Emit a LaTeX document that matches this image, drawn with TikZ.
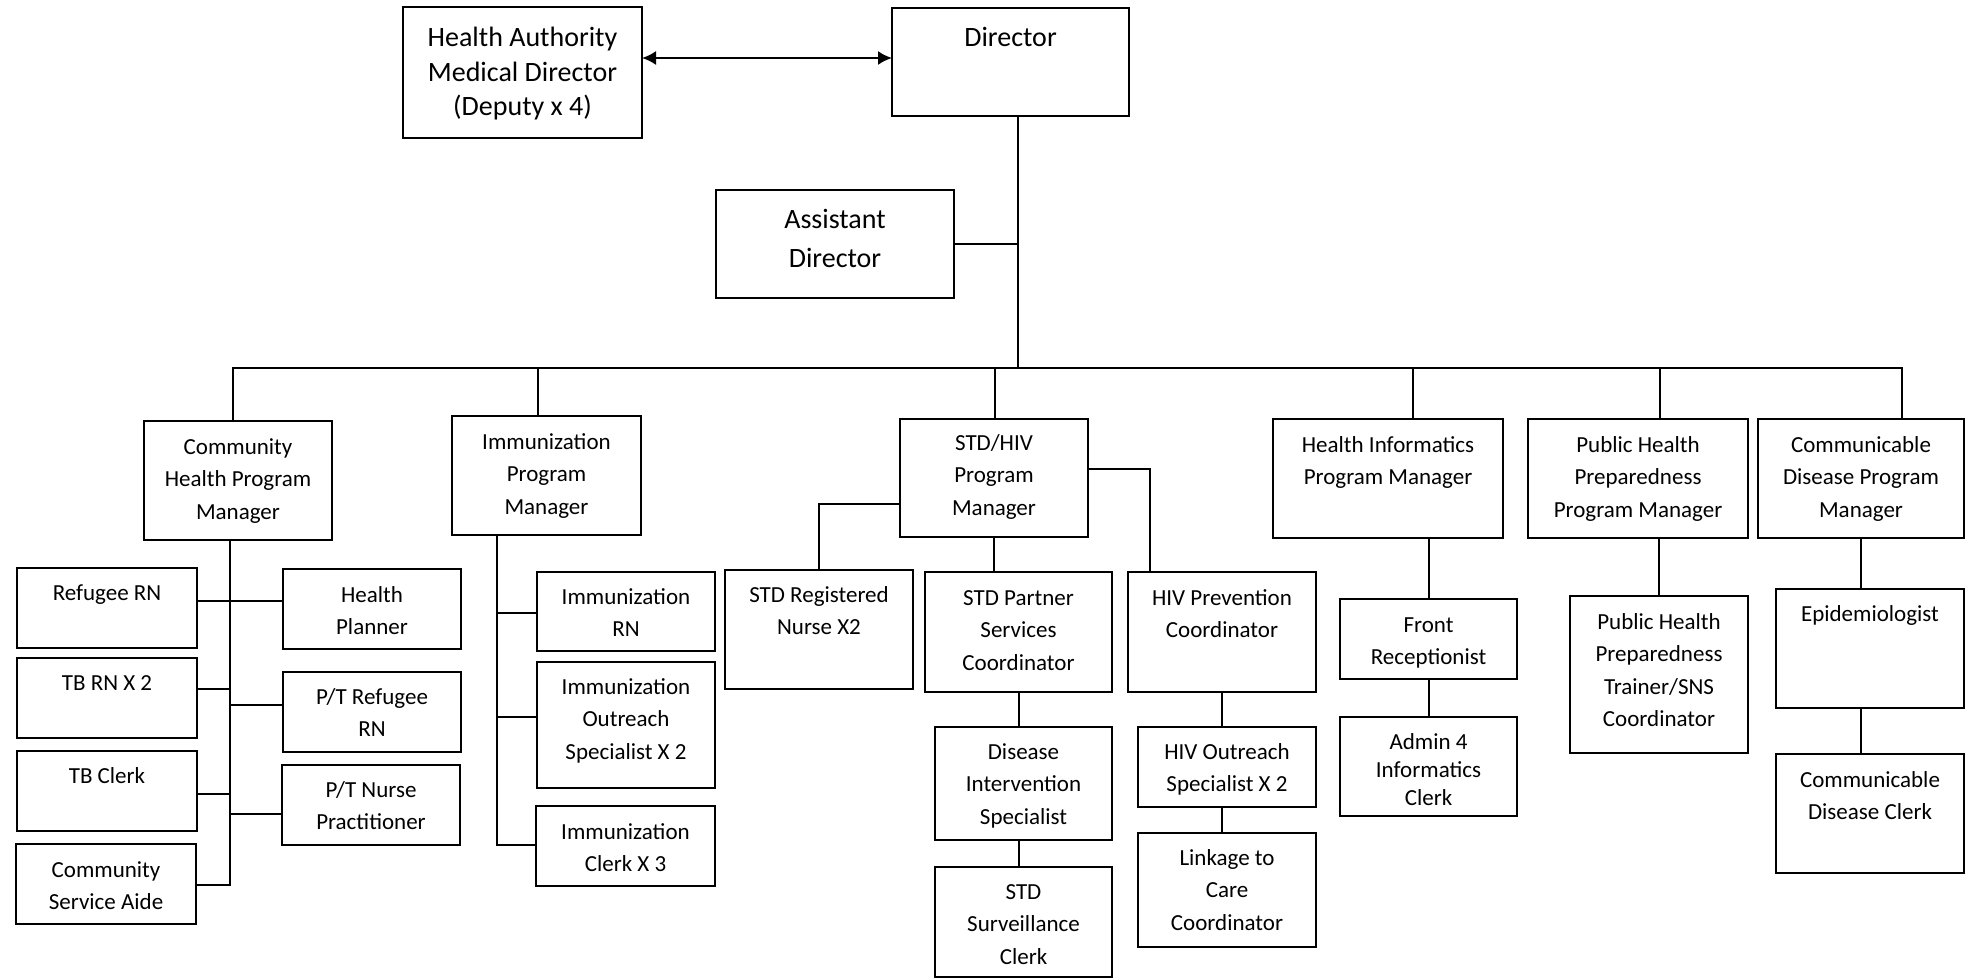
\documentclass[tikz,border=0pt]{standalone}
\usepackage{fontspec}
\setmainfont{Carlito}
\usetikzlibrary{arrows.meta,fit}
\tikzset{
  bx/.style={draw, line width=1pt, inner sep=0pt, outer sep=0pt, rectangle},
  ln/.style={line width=1pt},
  smtxt/.style={font=\fontsize{11.5}{16.25}\selectfont, align=center, inner sep=0pt, anchor=north, yshift=7.9pt},
  admtxt/.style={font=\fontsize{11.5}{14}\selectfont, align=center, inner sep=0pt, anchor=north, yshift=6.3pt},
  bigtxt/.style={font=\fontsize{14}{17.25}\selectfont, align=center, inner sep=0pt, anchor=north, yshift=7.5pt},
  asttxt/.style={font=\fontsize{14}{19.5}\selectfont, align=center, inner sep=0pt, anchor=north, yshift=9.1pt},
}
\newcommand\obox[8][smtxt]{%
  \node[bx, fit={(#3,#4) (#5,#6)}] (#2) {};
  \node[#1] (#2t) at ({(#3+#5)/2},#7) {\strut #8};
}
\begin{document}
\begin{tikzpicture}[x=0.5pt,y=-0.5pt]
\useasboundingbox (0,0) rectangle (1970,979);
% top level
\obox[bigtxt]{ha}{403}{7}{642}{138}{37}{Health Authority\\Medical Director\\(Deputy x 4)}
\obox[bigtxt]{dir}{892}{8}{1129}{116}{37}{Director}
\obox[asttxt]{asst}{716}{190}{954}{298}{219}{Assistant\\Director}
% program managers
\obox{ch}{144}{421}{332}{540}{447}{Community\\Health Program\\Manager}
\obox{ipm}{452}{416}{641}{535}{442}{Immunization\\Program\\Manager}
\obox{std}{900}{419}{1088}{537}{443}{STD/HIV\\Program\\Manager}
\obox{hi}{1273}{419}{1503}{538}{445}{Health Informatics\\Program Manager}
\obox{php}{1528}{419}{1748}{538}{445}{Public Health\\Preparedness\\Program Manager}
\obox{cd}{1758}{419}{1964}{538}{445}{Communicable\\Disease Program\\Manager}
% community health
\obox{rrn}{17}{568}{197}{648}{593}{Refugee RN}
\obox{tbrn}{17}{658}{197}{738}{683}{TB RN X 2}
\obox{tbc}{17}{751}{197}{831}{776}{TB Clerk}
\obox{csa}{16}{844}{196}{924}{870}{Community\\Service Aide}
\obox{hp}{283}{569}{461}{649}{595}{Health\\Planner}
\obox{ptr}{283}{672}{461}{752}{697}{P/T Refugee\\RN}
\obox{ptn}{282}{765}{460}{845}{790}{P/T Nurse\\Practitioner}
% immunization
\obox{irn}{537}{572}{715}{651}{597}{Immunization\\RN}
\obox{ios}{537}{662}{715}{788}{687}{Immunization\\Outreach\\Specialist X 2}
\obox{icl}{536}{806}{715}{886}{832}{Immunization\\Clerk X 3}
% std/hiv
\obox{strn}{725}{570}{913}{689}{595}{STD Registered\\Nurse X2}
\obox{stp}{925}{572}{1112}{692}{598}{STD Partner\\Services\\Coordinator}
\obox{hivp}{1128}{572}{1316}{692}{598}{HIV Prevention\\Coordinator}
\obox{dis}{935}{727}{1112}{840}{752}{Disease\\Intervention\\Specialist}
\obox{ssc}{935}{867}{1112}{977}{892}{STD\\Surveillance\\Clerk}
\obox{hivo}{1138}{727}{1316}{807}{752}{HIV Outreach\\Specialist X 2}
\obox{link}{1138}{833}{1316}{947}{858}{Linkage to\\Care\\Coordinator}
% informatics
\obox{fr}{1340}{599}{1517}{679}{625}{Front\\Receptionist}
\obox[admtxt]{adm}{1340}{717}{1517}{816}{742}{Admin 4\\Informatics\\Clerk}
% preparedness
\obox{pht}{1570}{596}{1748}{753}{622}{Public Health\\Preparedness\\Trainer/SNS\\Coordinator}
% communicable disease
\obox{epi}{1776}{589}{1964}{708}{614}{Epidemiologist}
\obox{cdc}{1776}{754}{1964}{873}{780}{Communicable\\Disease Clerk}

% helper coordinates
\coordinate (arr) at (0,58);
\coordinate (b1) at (233,368);
\coordinate (b2) at (538,368);
\coordinate (b3) at (995,368);
\coordinate (bj) at (1018,368);
\coordinate (b4) at (1413,368);
\coordinate (b5) at (1660,368);
\coordinate (b6) at (1902,368);
\coordinate (cv) at (230,885);
\coordinate (iv) at (497,845);
\coordinate (y601) at (0,601);
\coordinate (y689) at (0,689);
\coordinate (y705) at (0,705);
\coordinate (y794) at (0,794);
\coordinate (y814) at (0,814);
\coordinate (y613) at (0,613);
\coordinate (y717) at (0,717);
\coordinate (s1) at (0,504);
\coordinate (s2) at (1150,469);

% connectors
\draw[ln, {Latex[length=7pt,width=7pt]}-{Latex[length=7pt,width=7pt]}] (ha.east |- arr) -- (dir.west |- arr);
\draw[ln] (dir.south -| bj) -- (bj);
\draw[ln] (asst.east) -- (asst.east -| bj);
\draw[ln] (b1 |- ch.north) -- (b1) -- (b6) -- (b6 |- cd.north);
\draw[ln] (b2) -- (b2 |- ipm.north);
\draw[ln] (b3) -- (b3 |- std.north);
\draw[ln] (b4) -- (b4 |- hi.north);
\draw[ln] (b5) -- (b5 |- php.north);
% community health tree
\draw[ln] (cv |- ch.south) -- (cv) -- (cv -| csa.east);
\draw[ln] (rrn.east |- y601) -- (hp.west |- y601);
\draw[ln] (tbrn.east |- y689) -- (cv |- y689);
\draw[ln] (cv |- y705) -- (ptr.west |- y705);
\draw[ln] (tbc.east |- y794) -- (cv |- y794);
\draw[ln] (cv |- y814) -- (ptn.west |- y814);
% immunization tree
\draw[ln] (iv |- ipm.south) -- (iv) -- (iv -| icl.west);
\draw[ln] (iv |- y613) -- (irn.west |- y613);
\draw[ln] (iv |- y717) -- (ios.west |- y717);
% std/hiv tree
\draw[ln] (std.west |- s1) -| (strn.north);
\draw[ln] (std.south) -- (std.south |- stp.north);
\draw[ln] (std.east |- s2) -| (s2 |- hivp.north);
\draw[ln] (stp.south) -- (stp.south |- dis.north);
\draw[ln] (stp.south |- dis.south) -- (stp.south |- ssc.north);
\draw[ln] (hivp.south) -- (hivp.south |- hivo.north);
\draw[ln] (hivp.south |- hivo.south) -- (hivp.south |- link.north);
% informatics
\draw[ln] (fr.north |- hi.south) -- (fr.north);
\draw[ln] (fr.south) -- (adm.north);
% preparedness
\draw[ln] (pht.north |- php.south) -- (pht.north);
% communicable disease
\draw[ln] (cd.south) -- (cd.south |- epi.north);
\draw[ln] (cd.south |- epi.south) -- (cd.south |- cdc.north);
\end{tikzpicture}
\end{document}
